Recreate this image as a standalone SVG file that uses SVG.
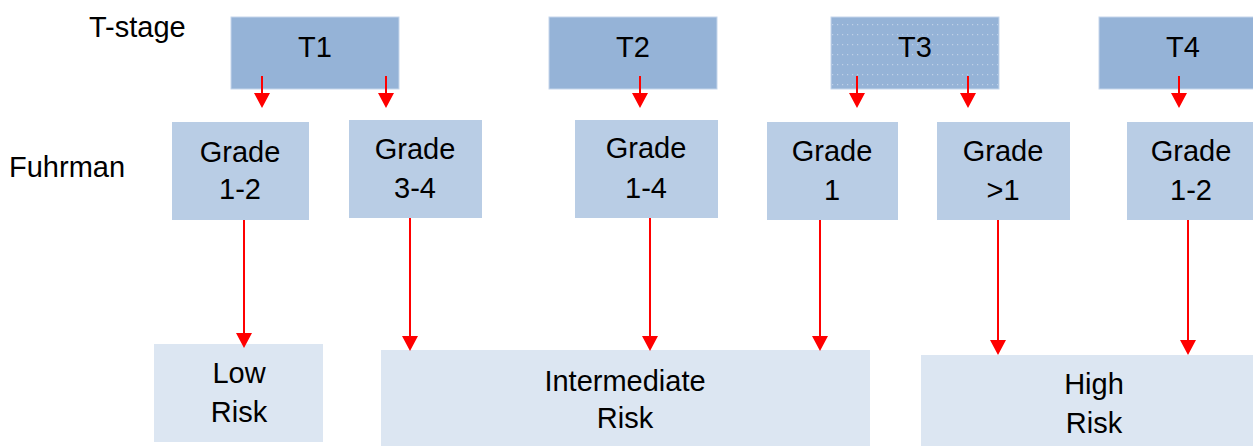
<svg xmlns="http://www.w3.org/2000/svg" width="1253" height="446" viewBox="0 0 1253 446">
<style>
text{font-family:"Liberation Sans",Arial,sans-serif;font-size:29px;fill:#000;text-anchor:middle}
.lbl{text-anchor:start}
.t{fill:#95B3D7;stroke:#C5D6EB;stroke-width:1}
.g{fill:#B9CDE5}
.r{fill:#DCE6F2}
.c{stroke:#FF0000;stroke-width:2;fill:none}
.h{fill:#FF0000}
</style>
<defs>
<pattern id="dots" x="0" y="0" width="5" height="10" patternUnits="userSpaceOnUse">
<rect x="2" y="4" width="1.2" height="1.2" fill="#FFFFFF" fill-opacity="0.4"/>
</pattern>
</defs>
<text class="lbl" x="89" y="37">T-stage</text>
<text class="lbl" x="9" y="177">Fuhrman</text>
<g id="T1"><rect class="t" x="231" y="17" width="168" height="72"/><text x="315" y="57">T1</text></g>
<g id="T2"><rect class="t" x="549" y="17" width="168" height="72"/><text x="633" y="57">T2</text></g>
<g id="T3"><rect class="t" x="831" y="17" width="168" height="72"/><rect x="832" y="18" width="166" height="70" fill="url(#dots)"/><text x="915" y="57">T3</text></g>
<g id="T4"><rect class="t" x="1099" y="17" width="160" height="72"/><text x="1183" y="57">T4</text></g>
<g id="G12a"><rect class="g" x="172" y="122" width="137" height="98"/><text x="240" y="162">Grade</text><text x="240" y="199">1-2</text></g>
<g id="G34"><rect class="g" x="349" y="120" width="133" height="98"/><text x="415" y="159">Grade</text><text x="415" y="198">3-4</text></g>
<g id="G14"><rect class="g" x="575" y="120" width="143" height="98"/><text x="646" y="158">Grade</text><text x="646" y="198">1-4</text></g>
<g id="G1"><rect class="g" x="767" y="122" width="131" height="98"/><text x="832" y="161">Grade</text><text x="832" y="200">1</text></g>
<g id="Ggt1"><rect class="g" x="937" y="122" width="133" height="98"/><text x="1003" y="161">Grade</text><text x="1003" y="200">&gt;1</text></g>
<g id="G12b"><rect class="g" x="1127" y="122" width="130" height="98"/><text x="1191" y="161">Grade</text><text x="1191" y="200">1-2</text></g>
<g id="Low"><rect class="r" x="154" y="344" width="169" height="98"/><text x="239" y="383">Low</text><text x="239" y="422">Risk</text></g>
<g id="Intermediate"><rect class="r" x="381" y="350" width="489" height="96"/><text x="625" y="391">Intermediate</text><text x="625" y="428">Risk</text></g>
<g id="High"><rect class="r" x="921" y="355" width="336" height="95"/><text x="1094" y="394">High</text><text x="1094" y="433">Risk</text></g>
<g id="connectors">
<path class="c" d="M262 76V94M386 76V94M640 76V94M857 76V94M968 76V94M1179 76V94"/>
<path class="h" d="M254 93H270L262 108ZM378 93H394L386 108ZM632 93H648L640 108ZM849 93H865L857 108ZM960 93H976L968 108ZM1171 93H1187L1179 108Z"/>
<path class="c" d="M244 220V334M410 218V337M650 218V337M820 220V337M998 220V341M1188 220V341"/>
<path class="h" d="M236 333H252L244 348ZM402 336H418L410 351ZM642 336H658L650 351ZM812 336H828L820 351ZM990 340H1006L998 355ZM1180 340H1196L1188 355Z"/>
</g>
</svg>
